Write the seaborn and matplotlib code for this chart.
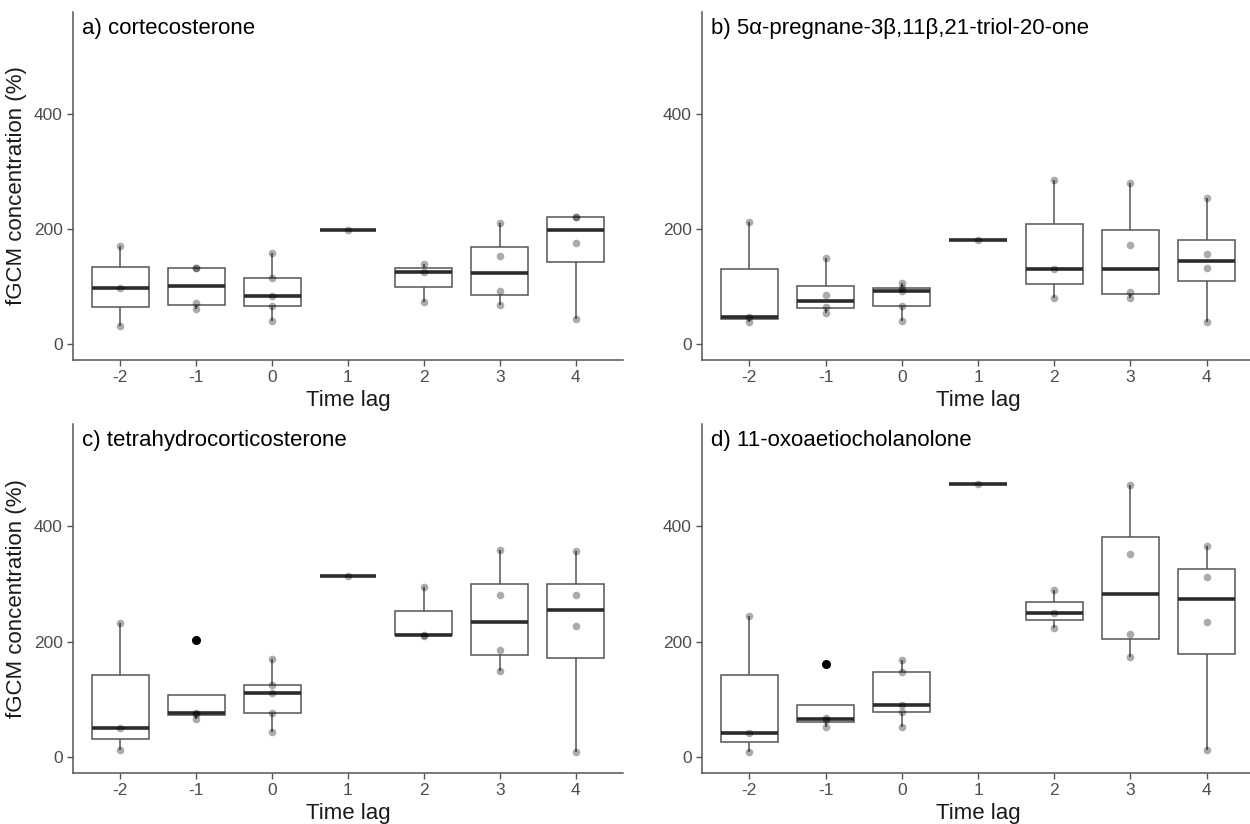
import pandas as pd
import seaborn as sns
import matplotlib.pyplot as plt

# time lags (x categories)
lags = ['-2', '-1', '0', '1', '2', '3', '4']

# fGCM concentration (%) per time lag
cortecosterone = [[32, 97, 170], [61, 71, 133, 133], [40, 66, 84, 115, 158], [199],
                  [73, 125, 140], [69, 92, 154, 210], [44, 175, 221, 221]]
pregnanetriolone = [[39, 48, 212], [55, 65, 86, 150], [41, 66, 93, 98, 107], [181],
                    [80, 131, 285], [80, 90, 172, 280], [39, 133, 156, 254]]
tetrahydrocorticosterone = [[13, 51, 232], [67, 75, 77, 203], [43, 77, 111, 125, 170], [313],
                            [210, 212, 294], [150, 186, 281, 358], [9, 227, 281, 357]]
oxoaetiocholanolone = [[10, 42, 244], [53, 64, 68, 161], [53, 79, 90, 147, 169], [473],
                       [224, 249, 289], [173, 214, 351, 471], [13, 234, 312, 366]]

titles = ['a) cortecosterone', 'b) 5α-pregnane-3β,11β,21-triol-20-one',
          'c) tetrahydrocorticosterone', 'd) 11-oxoaetiocholanolone']
panel_data = [cortecosterone, pregnanetriolone, tetrahydrocorticosterone, oxoaetiocholanolone]

sns.set_style('ticks')
plt.rcParams['font.family'] = ['Liberation Sans', 'DejaVu Sans']

W, H = 1250, 824
fig = plt.figure(figsize=(12.5, 8.24), dpi=100)
# axes boxes in pixels: left, top, right, bottom
boxes = [(73, 12, 623, 360), (702, 12, 1254, 360),
         (73, 424, 623, 773), (702, 424, 1254, 773)]

line_col = '#555555'
for i, (title, vals) in enumerate(zip(titles, panel_data)):
    l, t, r, b = boxes[i]
    ax = fig.add_axes([l / W, 1 - b / H, (r - l) / W, (b - t) / H])

    rows = []
    for lag, v in zip(lags, vals):
        for y in v:
            rows.append({'lag': lag, 'conc': y})
    df = pd.DataFrame(rows)

    sns.boxplot(data=df, x='lag', y='conc', order=lags, ax=ax, width=0.75,
                color='white', linecolor=line_col, linewidth=1.1,
                medianprops={'color': '#2b2b2b', 'linewidth': 2.6},
                capprops={'linewidth': 0},
                flierprops={'marker': 'o', 'markerfacecolor': 'black',
                            'markeredgecolor': 'black', 'markersize': 5.5})
    sns.stripplot(data=df, x='lag', y='conc', order=lags, ax=ax, jitter=False,
                  color='black', alpha=0.33, size=5.5, linewidth=0, zorder=5)

    ax.set_ylim(-27, 576)
    ax.set_yticks([0, 200, 400])
    ax.set_xlim(-0.62, 6.62)
    sns.despine(ax=ax)
    for s in ['left', 'bottom']:
        ax.spines[s].set_color(line_col)
        ax.spines[s].set_linewidth(1.1)
    ax.tick_params(colors=line_col, labelcolor='#4d4d4d', labelsize=12.5, length=4, width=1)

    ax.set_xlabel('Time lag', fontsize=16, labelpad=3, color='#1a1a1a')
    if i % 2 == 0:
        ax.set_ylabel('fGCM concentration (%)', fontsize=16, labelpad=5, color='#1a1a1a')
    else:
        ax.set_ylabel('')
    ax.text(0.016, 0.953, title, transform=ax.transAxes, fontsize=16,
            ha='left', va='center', color='black')

fig.savefig('out.png', dpi=100)
